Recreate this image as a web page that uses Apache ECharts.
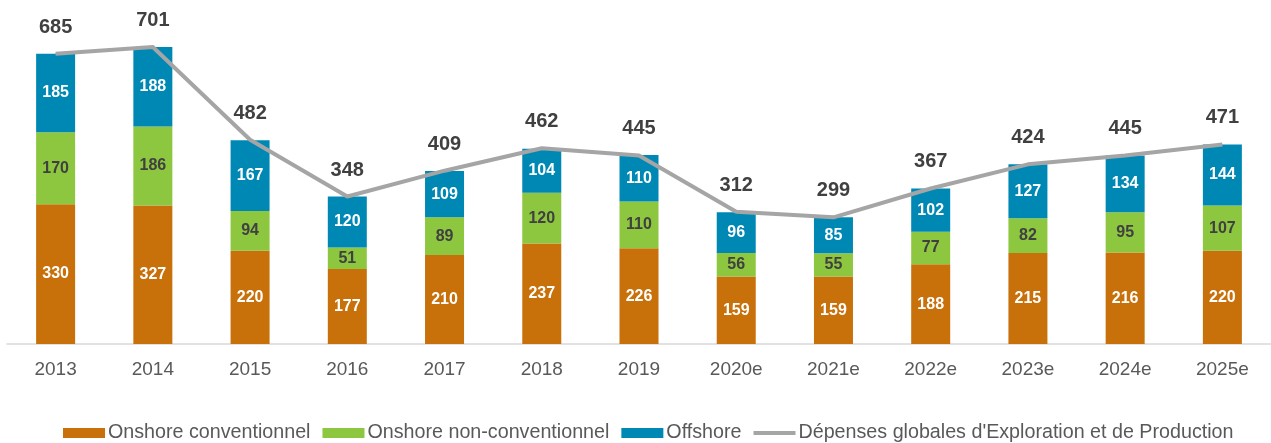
<!DOCTYPE html>
<html>
<head>
<meta charset="utf-8">
<script src="https://cdn.jsdelivr.net/npm/echarts@6/dist/echarts.min.js"></script>
<style>
html,body{margin:0;padding:0;background:#fff;}
#c{width:1271px;height:443px;}
</style>
</head>
<body>
<div id="c"></div>
<script>
const categories = ['2013','2014','2015','2016','2017','2018','2019','2020e','2021e','2022e','2023e','2024e','2025e'];
const onshoreConv = [330,327,220,177,210,237,226,159,159,188,215,216,220];
const onshoreNonConv = [170,186,94,51,89,120,110,56,55,77,82,95,107];
const offshore = [185,188,167,120,109,104,110,96,85,102,127,134,144];
const totals = [685,701,482,348,409,462,445,312,299,367,424,445,471];

const names = ['Onshore conventionnel','Onshore non-conventionnel','Offshore',"Dépenses globales d'Exploration et de Production"];
const font = '"Liberation Sans", Arial, sans-serif';

function barSeries(name, data, color, labelColor) {
  return {
    name, type: 'bar', stack: 'total', data, barWidth: 39,
    itemStyle: { color },
    label: { show: true, position: 'inside', color: labelColor, fontWeight: 'bold', fontSize: 16, fontFamily: font }
  };
}

const chart = echarts.init(document.getElementById('c'));
chart.setOption({
  animation: false,
  grid: { left: 7, right: 0, top: 5, bottom: 99, containLabel: false },
  xAxis: {
    type: 'category', data: categories,
    axisLine: { lineStyle: { color: '#D9D9D9', width: 1.5 } },
    axisTick: { show: false },
    axisLabel: { color: '#595959', fontSize: 19, fontFamily: font, margin: 16 }
  },
  yAxis: { type: 'value', min: 0, max: 800, show: false, splitLine: { show: false } },
  legend: {
    top: 418, left: 58, itemWidth: 42, itemHeight: 10, itemGap: 12,
    textStyle: { color: '#595959', fontSize: 19.7, fontFamily: font, padding: [0,0,0,-2] },
    data: [
      { name: names[0], icon: 'rect' },
      { name: names[1], icon: 'rect' },
      { name: names[2], icon: 'rect' },
      { name: names[3], icon: 'path://M0,0 L42,0 L42,4 L0,4 Z' }
    ]
  },
  series: [
    barSeries(names[0], onshoreConv, '#C8700A', '#ffffff'),
    barSeries(names[1], onshoreNonConv, '#8DC63F', '#404040'),
    barSeries(names[2], offshore, '#0088B5', '#ffffff'),
    {
      name: names[3], type: 'line', data: totals, z: 5,
      symbol: 'circle', symbolSize: 1,
      itemStyle: { color: '#A5A5A5' },
      lineStyle: { color: '#A5A5A5', width: 4 },
      label: { show: true, position: 'top', distance: 16, color: '#404040', fontWeight: 'bold', fontSize: 20, fontFamily: font }
    }
  ]
});
</script>
</body>
</html>
